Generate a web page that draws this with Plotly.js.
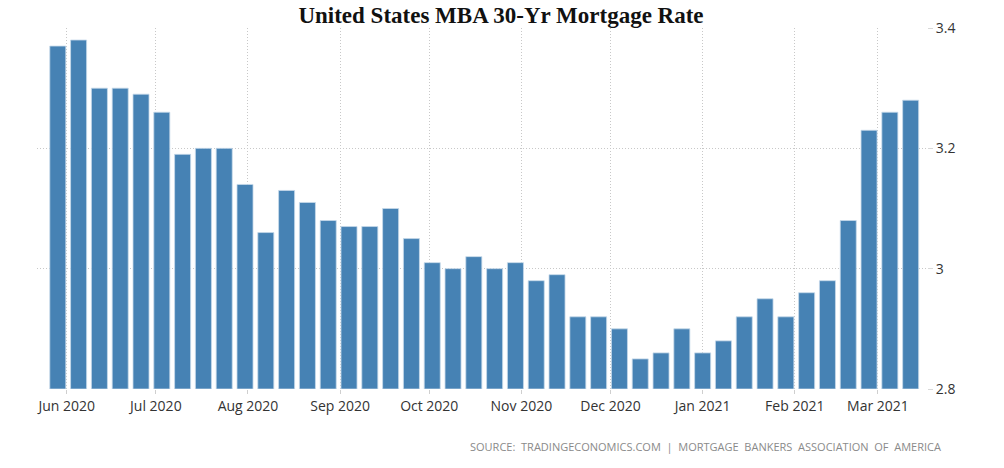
<!DOCTYPE html>
<html>
<head>
<meta charset="utf-8">
<script src="https://cdn.plot.ly/plotly-3.0.1.min.js"></script>
<style>
html,body{margin:0;padding:0;background:#fff;}
#chart{width:1004px;height:468px;}
</style>
</head>
<body>
<div id="chart"></div>
<script>
const weekDates = [
  '2020-05-29','2020-06-05','2020-06-12','2020-06-19','2020-06-26',
  '2020-07-03','2020-07-10','2020-07-17','2020-07-24','2020-07-31',
  '2020-08-07','2020-08-14','2020-08-21','2020-08-28',
  '2020-09-04','2020-09-11','2020-09-18','2020-09-25',
  '2020-10-02','2020-10-09','2020-10-16','2020-10-23','2020-10-30',
  '2020-11-06','2020-11-13','2020-11-20','2020-11-27',
  '2020-12-04','2020-12-11','2020-12-18','2020-12-25',
  '2021-01-01','2021-01-08','2021-01-15','2021-01-22','2021-01-29',
  '2021-02-05','2021-02-12','2021-02-19','2021-02-26',
  '2021-03-05','2021-03-12'
];
const mortgageRate = [
  3.37, 3.38, 3.30, 3.30, 3.29,
  3.26, 3.19, 3.20, 3.20, 3.14,
  3.06, 3.13, 3.11, 3.08,
  3.07, 3.07, 3.10, 3.05,
  3.01, 3.00, 3.02, 3.00, 3.01,
  2.98, 2.99, 2.92, 2.92,
  2.90, 2.85, 2.86, 2.90,
  2.86, 2.88, 2.92, 2.95, 2.92,
  2.96, 2.98, 3.08, 3.23,
  3.26, 3.28
];
const yTickVals = [2.8, 3.0, 3.2, 3.4];
const yTickText = ['2.8', '3', '3.2', '3.4'];
const titleText = 'United States MBA 30-Yr Mortgage Rate';
const sourceText = 'SOURCE:&nbsp; TRADINGECONOMICS.COM &nbsp;|&nbsp; MORTGAGE&nbsp; BANKERS&nbsp; ASSOCIATION&nbsp; OF&nbsp; AMERICA';
const baseValue = 2.8;

const trace = {
  type: 'bar',
  x: weekDates,
  y: mortgageRate.map(v => v - baseValue),
  base: baseValue,
  marker: {color: '#4682b4', line: {color: '#c6d9ea', width: 0.8}},
  hoverinfo: 'x+y'
};

const gridDash = '1px,2px';
const tickFont = {family: '"Open Sans", "DejaVu Sans", sans-serif', size: 14, color: '#333'};

const layout = {
  width: 1004, height: 468,
  margin: {l: 37, r: 77, t: 28, b: 79},
  paper_bgcolor: '#ffffff', plot_bgcolor: '#ffffff',
  showlegend: false,
  bargap: 0.23,
  title: {
    text: '<b>' + titleText + '</b>',
    font: {family: '"Liberation Serif", "Times New Roman", serif', size: 23, color: '#111'},
    x: 0.499, xref: 'container', xanchor: 'center',
    y: 0.968, yref: 'container', yanchor: 'middle'
  },
  xaxis: {
    type: 'date',
    range: ['2020-05-22', '2021-03-17 12:00'],
    tick0: '2020-06-01', dtick: 'M1', tickformat: '%b %Y',
    showgrid: true, gridcolor: '#c8c8c8', griddash: gridDash, gridwidth: 1,
    ticks: 'outside', ticklen: 4, tickcolor: '#cfcfcf',
    showline: false, zeroline: false,
    tickfont: tickFont
  },
  yaxis: {
    side: 'right',
    range: [2.8, 3.4],
    tickmode: 'array', tickvals: yTickVals, ticktext: yTickText,
    showgrid: true, gridcolor: '#c8c8c8', griddash: gridDash, gridwidth: 1,
    ticks: 'outside', ticklen: 5, tickcolor: '#d8d8d8',
    showline: false, zeroline: false,
    tickfont: tickFont
  },
  annotations: [{
    text: sourceText,
    xref: 'paper', yref: 'paper',
    x: 1.0, y: -0.158, xanchor: 'right', yanchor: 'middle',
    xshift: 16,
    showarrow: false,
    font: {family: '"Open Sans", "DejaVu Sans", sans-serif', size: 11, color: '#8a8a8a'}
  }]
};

Plotly.newPlot('chart', [trace], layout, {displayModeBar: false, staticPlot: true});
</script>
</body>
</html>
